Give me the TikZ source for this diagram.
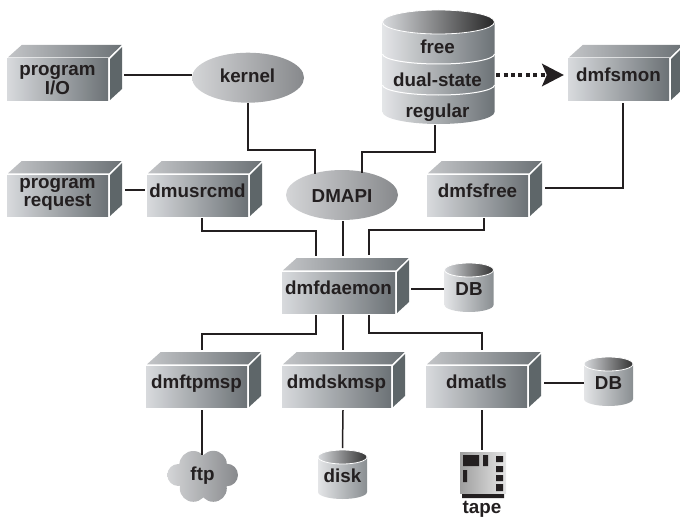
\documentclass[tikz,border=0pt]{standalone}
\usepackage{fontspec}
\setmainfont{Liberation Sans}
\usetikzlibrary{calc,arrows.meta,shapes.geometric}

\definecolor{boxlight}{HTML}{D8DADD}
\definecolor{boxdark}{HTML}{6C7276}
\definecolor{boxside}{HTML}{5E6669}
\definecolor{ovallight}{HTML}{D4D5D7}
\definecolor{ovaldark}{HTML}{87898C}
\definecolor{inkblack}{HTML}{231F20}

\begin{document}
\begin{tikzpicture}[x=1pt,y=-1pt,
  every node/.style={text=inkblack,font=\fontsize{18.8}{18.5}\selectfont\bfseries,align=center,inner sep=0pt},
  frontbox/.style={left color=boxlight,right color=boxdark},
  oval/.style={ellipse,minimum width=112pt,minimum height=50pt,left color=ovallight,right color=ovaldark},
  wire/.style={line width=1.5pt,draw=inkblack},
  dotwire/.style={line width=4pt,draw=inkblack,dash pattern=on 4pt off 3.4pt,
    -{Stealth[length=22pt,width=23pt,inset=5pt,line width=0pt]}}
]
\useasboundingbox (0,0) rectangle (680,519);

% the boxes
\foreach \nm/\x/\y/\w/\dy/\txt in {progio/7/59/101/1.7/{\strut program\\[-0.5pt]\strut I/O},
    progreq/7/175/101/-2/{\strut program\\[-0.5pt]\strut request},
    dmusrcmd/147/175/101/-1.7/\strut dmusrcmd,
    dmfsfree/427/175/101/-1.7/\strut dmfsfree,
    dmfsmon/568/59/101/-1.7/\strut dmfsmon,
    dmfdaemon/282/272/113/-1.7/\strut dmfdaemon,
    dmftpmsp/146/366/101/-1.7/\strut dmftpmsp,
    dmdskmsp/282/366/109/-1.7/\strut dmdskmsp,
    dmatls/426/366/101/-1.7/\strut dmatls}
{
  \node[frontbox,minimum width=\w pt,minimum height=41pt] (\nm) at (\x+\w/2,\y+20.5) {};
  \shade[left color=boxlight!90!black,right color=boxdark]
    (\x+1,\y-1.7) -- (\x+14.7,\y-14) -- (\x+\w+13.7,\y-14) -- (\x+\w+1,\y-1.7) -- cycle;
  \fill[boxside] (\x+\w+2,\y) -- (\x+\w+14,\y-12) -- (\x+\w+14,\y+30) -- (\x+\w+2,\y+41) -- cycle;
  \node (\nm text) at (\x+\w/2,\y+20.5+\dy) {\txt};
}

% the ovals
\node[oval] (kernel) at (248,77.7) {};
\node (kernel text) at (247.5,78.3) {\strut kernel};
\node[oval] (dmapi) at (342,195) {};
\node (dmapi text) at (342,198.3) {\strut DMAPI};

% the drums
\foreach \nm/\x/\y/\txt in {dbone/469/263/DB,dbtwo/608.5/357/DB,disk/342.5/450/disk}
{
  \shade[left color=boxlight!70!white,right color=boxdark!80!white]
    (\x-24.5,\y+7) -- (\x-24.5,\y+42) arc[start angle=180,end angle=360,x radius=24.5pt,y radius=7pt]
    -- (\x+24.5,\y+7) -- cycle;
  \shade[left color=boxlight,right color=black!80,draw=white,line width=0.8pt]
    (\x,\y+7) ellipse[x radius=24.5pt,y radius=7pt];
  \node[minimum width=49pt,minimum height=35pt] (\nm) at (\x,\y+28.5) {\strut \txt};
}

% the file stack
\shade[left color=boxlight!70!white,right color=boxdark]
  (382.5,22) -- (382.5,112) arc[start angle=180,end angle=360,x radius=56pt,y radius=12pt] -- (494.5,22) -- cycle;
\shade[left color=boxlight,right color=black!85,draw=white,line width=0.8pt]
  (438.5,22) ellipse[x radius=56pt,y radius=12pt];
\foreach \y in {54,85}
  \draw[white,line width=1pt] (382.5,\y) arc[start angle=180,end angle=360,x radius=56pt,y radius=10pt];
\node (free) at (437.5,49.6) {\strut free};
\node (dualstate) at (437.5,82.3) {\strut dual-state};
\node (regular) at (437.5,113.6) {\strut regular};
\node[minimum width=112pt,minimum height=114pt] (stack) at (438.5,68) {};

% the cloud
\begin{scope}
  \clip (193.3,465) circle[radius=14pt] (213.3,464.3) circle[radius=13.5pt]
    (178.3,475) circle[radius=11pt] (226.7,475) circle[radius=11.3pt]
    (193.3,488.3) circle[radius=13.5pt] (213.3,488.3) circle[radius=13.5pt]
    (202,477) circle[radius=18pt];
  \shade[left color=ovallight,right color=ovaldark] (167,450) rectangle (238,502);
\end{scope}
\node[minimum width=71pt,minimum height=51pt] (ftp) at (202.5,476.3) {\strut ftp};

% the cartridge
\node[minimum width=46pt,minimum height=41pt,left color=black!38,right color=black!10] (cartridge) at (483,472.5) {};
\fill[inkblack] (463,455) rectangle (479,466) (483,455) rectangle (488,466) (463,470) rectangle (467,482)
  (496,456) rectangle (503,462) (496,466) rectangle (503,472) (496,475) rectangle (503,481) (496,484) rectangle (503,491)
  (462,494) rectangle (504,498);
\node (tape) at (482,509.3) {\strut tape};

% the connectors
\draw[wire] ($(progio.east)+(16,-4.5)$) -- ($(kernel.west)+(0,-2.7)$);
\draw[wire] ($(progreq.east)+(17,-5.5)$) -- ($(dmusrcmd.west)+(-2,-5.5)$);
\draw[wire] (kernel.south) -- (248,150) -| ($(dmapi.north)+(-27,4)$);
\draw[wire] ($(stack.south)+(-3.5,0)$) -- (435,152) -| ($(dmapi.north)+(20,3)$);
\draw[wire] ($(dmfsmon.south)+(4.5,3)$) |- ($(dmfsfree.east)+(17,-7.5)$);
\draw[wire] ($(dmfsfree.south)+(6.5,2)$) -- (484,230) -| ($(dmfdaemon.north)+(30.5,-17)$);
\draw[wire] ($(dmusrcmd.south)+(4.5,2)$) -- (202,231) -| ($(dmfdaemon.north)+(-22.5,-16)$);
\draw[wire] ($(dmapi.south)+(1,1)$) -- ($(dmfdaemon.north)+(4.5,-16)$);
\draw[wire] ($(dmfdaemon.east)+(16,-3.5)$) -- ($(dbone.west)+(0,-2.5)$);
\draw[wire] ($(dmfdaemon.south)+(-22.5,2)$) -- (316,334) -| ($(dmftpmsp.north)+(5.5,-16)$);
\draw[wire] ($(dmfdaemon.south)+(4.5,2)$) -- ($(dmdskmsp.north)+(6.5,-16)$);
\draw[wire] ($(dmfdaemon.south)+(30.5,2)$) -- (369,333) -| ($(dmatls.north)+(5.5,-16)$);
\draw[wire] ($(dmatls.east)+(17,-3.5)$) -- ($(dbtwo.west)+(0,-2.5)$);
\draw[wire] ($(dmftpmsp.south)+(5.5,3)$) -- ($(ftp.north)+(-0.5,4)$);
\draw[wire] ($(dmdskmsp.south)+(6.5,3)$) -- (342.5,448);
\draw[wire] ($(dmatls.south)+(5.5,3)$) -- (482,450);
\draw[dotwire] ($(stack.east)+(1.5,7)$) -- ($(dmfsmon.west)+(-4,-4.5)$);
\end{tikzpicture}
\end{document}
